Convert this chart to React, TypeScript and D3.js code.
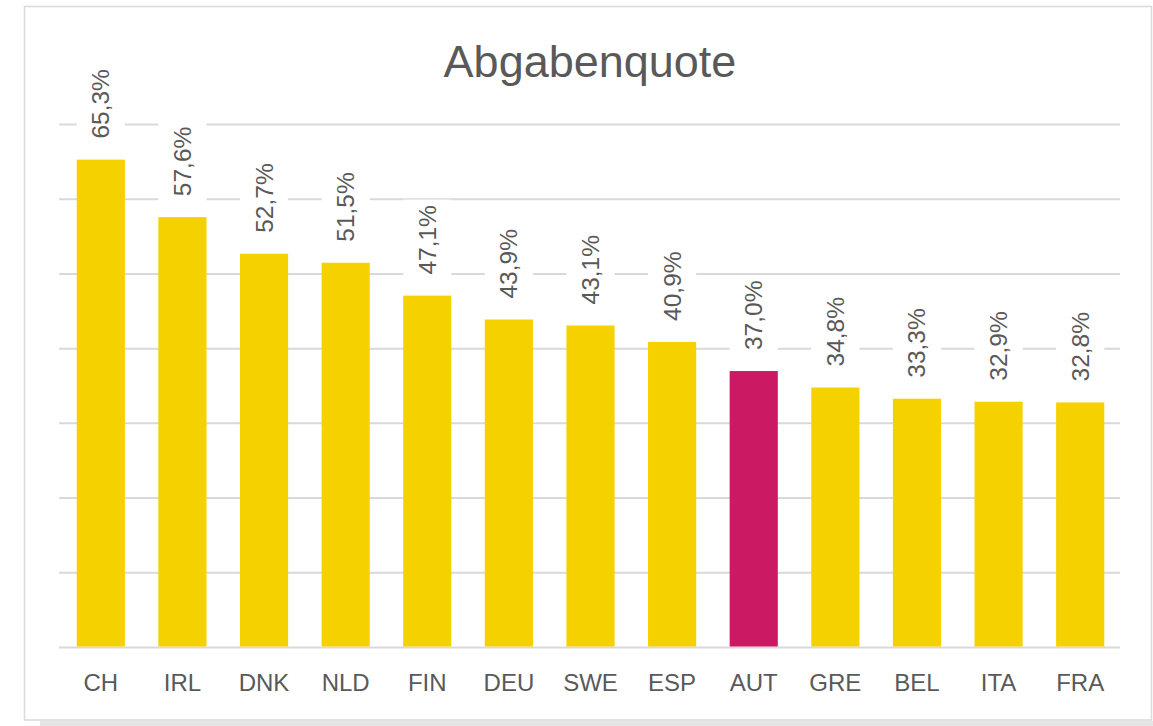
import React from "react";
import * as d3 from "d3";

const categories = ["CH", "IRL", "DNK", "NLD", "FIN", "DEU", "SWE", "ESP", "AUT", "GRE", "BEL", "ITA", "FRA"];
const values = [65.3, 57.6, 52.7, 51.5, 47.1, 43.9, 43.1, 40.9, 37.0, 34.8, 33.3, 32.9, 32.8];
const highlight = ["AUT"];
const yTicks = [0, 10, 20, 30, 40, 50, 60, 70];
const title = "Abgabenquote";

const W = 1153;
const H = 726;
const FONT = "'Liberation Sans', Arial, sans-serif";
const TEXT = "#595959";
const GRID = "#D9D9D9";
const YELLOW = "#F6D100";
const MAGENTA = "#CB1A63";

export default function App() {
  const x = d3.scaleBand<string>().domain(categories).range([60, 1121]).paddingInner(0.41).paddingOuter(0.205);
  const y = d3.scaleLinear().domain([0, 70]).range([647.5, 124.5]);
  const fmt = (v: number) => v.toFixed(1).replace(".", ",") + "%";
  const labelLen = 70;

  return (
    <svg width={W} height={H} style={{ position: "absolute", left: 0, top: 0, background: "#fff" }}>
      <rect x={40} y={721} width={W - 40} height={5} fill="#E6E6E6" />
      <rect x={24.5} y={6.5} width={1127} height={713.5} fill="#fff" stroke={GRID} strokeWidth={1.5} />
      <text x={590} y={77} textAnchor="middle" fontFamily={FONT} fontSize={45} fill={TEXT}>
        {title}
      </text>
      {yTicks.map((t) => (
        <line key={t} x1={59} x2={1120} y1={y(t)} y2={y(t)} stroke={GRID} strokeWidth={2} />
      ))}
      {categories.map((c, i) => {
        const bx = x(c)!;
        const bw = x.bandwidth();
        const top = y(values[i]);
        const textStart = top - 21;
        return (
          <g key={c}>
            <rect x={bx} y={top} width={bw} height={y(0) - top - 1} fill={highlight.includes(c) ? MAGENTA : YELLOW} />
            <rect x={bx} y={textStart - labelLen - 5} width={bw} height={labelLen + 10} fill="#fff" />
            <text
              transform={`translate(${bx + bw / 2 + 8.5},${textStart}) rotate(-90)`}
              fontFamily={FONT}
              fontSize={24.5}
              fill={TEXT}
            >
              {fmt(values[i])}
            </text>
            <text x={bx + bw / 2} y={691} textAnchor="middle" fontFamily={FONT} fontSize={24} fill={TEXT}>
              {c}
            </text>
          </g>
        );
      })}
    </svg>
  );
}
